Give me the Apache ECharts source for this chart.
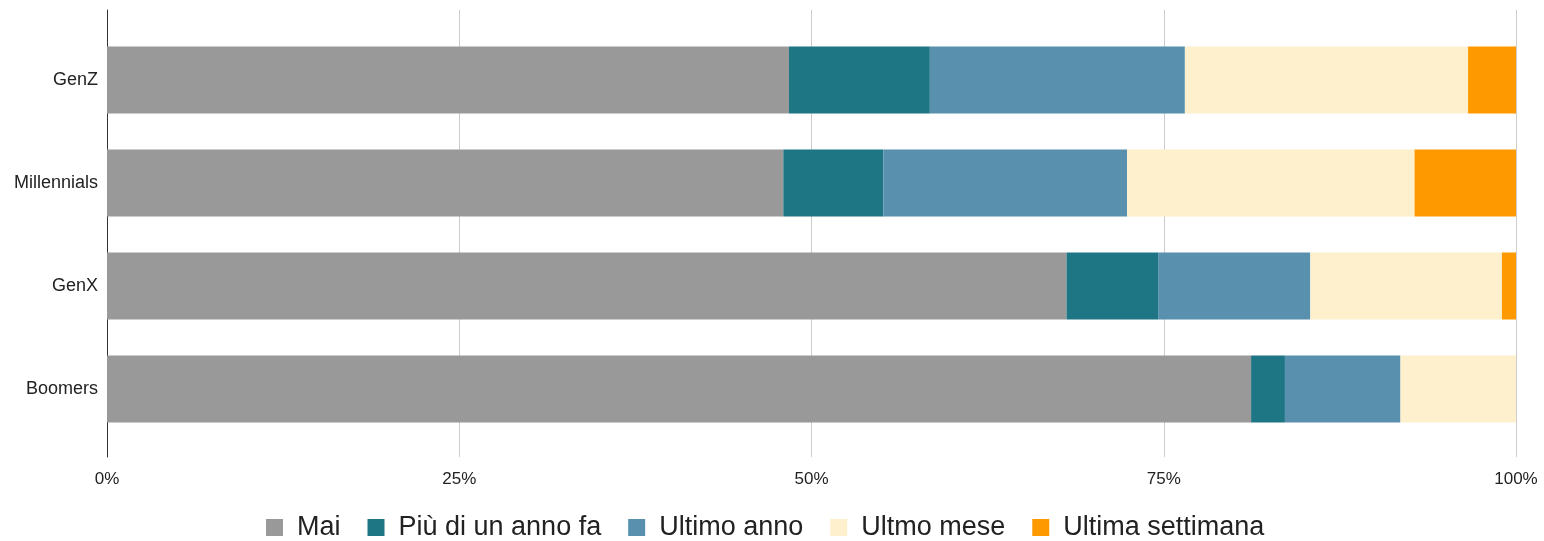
<!DOCTYPE html>
<html>
<head>
<meta charset="utf-8">
<title>Frequenza per generazione</title>
<script src="https://cdn.jsdelivr.net/npm/echarts@6/dist/echarts.min.js"></script>
<style>
  html, body { margin: 0; padding: 0; background: #ffffff; }
  #chart { width: 1544px; height: 541px; }
</style>
</head>
<body>
<div id="chart"></div>
<script>
// Generations, top to bottom
const categories = ['GenZ', 'Millennials', 'GenX', 'Boomers'];

// Share of respondents (%) for each answer
const seriesNames = ['Mai', 'Più di un anno fa', 'Ultimo anno', 'Ultmo mese', 'Ultima settimana'];
const mai            = [48.4, 48.0, 68.1, 81.2];
const piuDiUnAnnoFa  = [10.0,  7.1,  6.5,  2.4];
const ultimoAnno     = [18.1, 17.3, 10.8,  8.2];
const ultmoMese      = [20.1, 20.4, 13.6,  8.2];
const ultimaSettimana = [3.4,  7.2,  1.0,  0.0];

// Value-axis ticks
const tickValues = [0, 25, 50, 75, 100];

const seriesValues = [mai, piuDiUnAnnoFa, ultimoAnno, ultmoMese, ultimaSettimana];
const colors = ['#999999', '#1e7584', '#5890ae', '#fef0cc', '#ff9900'];
const font = 'Liberation Sans, Arial, sans-serif';

const chart = echarts.init(document.getElementById('chart'), null, { renderer: 'canvas' });

chart.setOption({
  animation: false,
  backgroundColor: '#ffffff',
  color: colors,
  textStyle: { fontFamily: font },
  grid: [
    // bars
    { left: 107, right: 28, top: 28.5, bottom: 100.5, containLabel: false },
    // gridlines, axis line and tick labels
    { left: 107, right: 28, top: 10, bottom: 84, containLabel: false }
  ],
  legend: {
    left: 266,
    top: 514,
    padding: 0,
    itemWidth: 17,
    itemHeight: 17,
    itemGap: 27,
    icon: 'rect',
    data: seriesNames,
    textStyle: {
      fontFamily: font,
      fontSize: 27,
      color: '#222222',
      padding: [0, 0, 0, 9]
    }
  },
  xAxis: [
    {
      gridIndex: 0,
      type: 'value',
      min: 0,
      max: 100,
      show: false
    },
    {
      gridIndex: 1,
      type: 'value',
      min: tickValues[0],
      max: tickValues[tickValues.length - 1],
      interval: 25,
      axisLine: { show: false },
      axisTick: { show: false },
      splitLine: { show: true, lineStyle: { color: '#cccccc', width: 1 } },
      axisLabel: {
        fontFamily: font,
        fontSize: 17,
        color: '#222222',
        margin: 14,
        formatter: '{value}%'
      }
    }
  ],
  yAxis: [
    {
      gridIndex: 0,
      type: 'category',
      data: categories,
      inverse: true,
      axisLine: { show: false },
      axisTick: { show: false },
      splitLine: { show: false },
      axisLabel: {
        fontFamily: font,
        fontSize: 18,
        color: '#222222',
        margin: 9
      }
    },
    {
      gridIndex: 1,
      type: 'value',
      min: 0,
      max: 1,
      axisLine: { show: true, lineStyle: { color: '#333333', width: 1 } },
      axisTick: { show: false },
      axisLabel: { show: false },
      splitLine: { show: false }
    }
  ],
  series: seriesNames.map((name, i) => ({
    name: name,
    type: 'bar',
    stack: 'total',
    xAxisIndex: 0,
    yAxisIndex: 0,
    barWidth: 67,
    data: seriesValues[i],
    itemStyle: { color: colors[i] },
    emphasis: { disabled: true }
  }))
});
</script>
</body>
</html>
